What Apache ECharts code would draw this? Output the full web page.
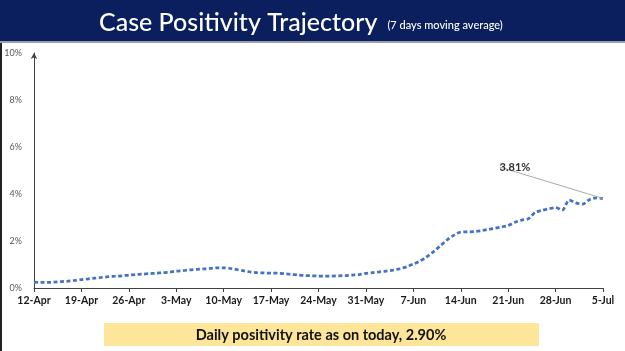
<!DOCTYPE html>
<html>
<head>
<meta charset="utf-8">
<script src="https://cdn.jsdelivr.net/npm/echarts@6/dist/echarts.min.js"></script>
<style>
  html,body{margin:0;padding:0;background:#fff;}
  #chart{width:625px;height:351px;}
</style>
</head>
<body>
<div id="chart"></div>
<script>
  // dates 12-Apr .. 5-Jul (daily)
  var startDate = new Date(2022, 3, 12);
  var months = ['Jan','Feb','Mar','Apr','May','Jun','Jul','Aug','Sep','Oct','Nov','Dec'];
  var dayLabels = [];
  for (var i = 0; i < 85; i++) {
    var d = new Date(startDate.getTime() + i * 86400000);
    dayLabels.push(d.getDate() + '-' + months[d.getMonth()]);
  }
  // 7 day moving average positivity (%)
  var positivity = [
    0.25,0.24,0.24,0.25,0.27,0.29,0.32,
    0.36,0.39,0.42,0.45,0.48,0.50,0.52,
    0.55,0.57,0.59,0.61,0.63,0.65,0.67,
    0.72,0.74,0.77,0.79,0.81,0.83,0.86,
    0.86,0.83,0.78,0.73,0.68,0.65,0.64,
    0.63,0.63,0.61,0.58,0.55,0.53,0.52,
    0.51,0.51,0.51,0.52,0.53,0.55,0.57,
    0.62,0.65,0.69,0.72,0.76,0.82,0.90,
    1.02,1.15,1.33,1.55,1.80,2.05,2.25,
    2.38,2.39,2.40,2.44,2.49,2.54,2.60,
    2.66,2.80,2.89,2.95,3.22,3.30,3.37,
    3.42,3.32,3.74,3.62,3.57,3.76,3.83,
    3.81
  ];
  var lastLabel = '3.81%';
  var dailyText = 'Daily positivity rate as on today, 2.90%';

  var chart = echarts.init(document.getElementById('chart'));
  var seriesData = positivity.map(function (v, idx) {
    if (idx === positivity.length - 1) {
      return {
        value: v,
        label: {show: true, formatter: lastLabel},
        labelLine: {show: true}
      };
    }
    return v;
  });

  var option = {
    animation: false,
    backgroundColor: '#fff',
    title: {
      text: '{a|Case Positivity Trajectory}  {b|(7 days moving average)}',
      left: 94,
      top: 5,
      textStyle: {
        rich: {
          a: {fontFamily: 'Lato', fontSize: 25, color: '#fff', fontWeight: 500},
          b: {fontFamily: 'Lato', fontSize: 11, color: '#fff', fontWeight: 500, padding: [5, 0, 0, 0]}
        }
      }
    },
    graphic: [
      {type: 'rect', z: -10, shape: {x: 0, y: 0, width: 625, height: 41}, style: {fill: '#0b1f5e'}},
      {type: 'rect', z: -10, shape: {x: 0, y: 41, width: 625, height: 2}, style: {fill: '#9aa0ad'}},
      {type: 'rect', z: -10, shape: {x: 0, y: 43, width: 2, height: 308}, style: {fill: '#222'}},
      {type: 'rect', shape: {x: 104, y: 323, width: 435, height: 23}, style: {fill: '#fde59a'}},
      {type: 'text', x: 321, y: 335, style: {
        text: dailyText, fill: '#111', font: 'bold 14.5px Lato', align: 'center', verticalAlign: 'middle'
      }}
    ],
    grid: {left: 34, right: 22, top: 53, bottom: 63},
    xAxis: {
      type: 'category',
      data: dayLabels,
      boundaryGap: false,
      axisLine: {lineStyle: {color: '#404040', width: 1}},
      axisTick: {interval: 6, length: 4, lineStyle: {color: '#404040'}},
      axisLabel: {interval: 6, color: '#1a1a1a', fontFamily: 'Lato', fontWeight: 'bold', fontSize: 10.5, margin: 7}
    },
    yAxis: {
      type: 'value',
      min: 0,
      max: 10,
      interval: 2,
      axisLine: {show: true, symbol: ['none', 'arrow'], symbolSize: [5, 6], lineStyle: {color: '#404040'}},
      axisTick: {show: false},
      splitLine: {show: false},
      axisLabel: {formatter: '{value}%', color: '#595959', fontFamily: 'Lato', fontSize: 9, margin: 12}
    },
    series: [{
      type: 'line',
      data: seriesData,
      smooth: 0.3,
      showSymbol: true,
      symbol: 'circle',
      symbolSize: 0,
      lineStyle: {color: '#4472c4', width: 2.75, type: [4, 2.5]},
      itemStyle: {color: '#4472c4'},
      label: {color: '#333', fontFamily: 'Lato', fontWeight: 'bold', fontSize: 11},
      labelLine: {lineStyle: {color: '#aaa', width: 1}},
      labelLayout: function (p) {
        if (p.dataIndex === positivity.length - 1) {
          return {dx: -88, dy: -21};
        }
      }
    }]
  };
  chart.setOption(option);
</script>
</body>
</html>
